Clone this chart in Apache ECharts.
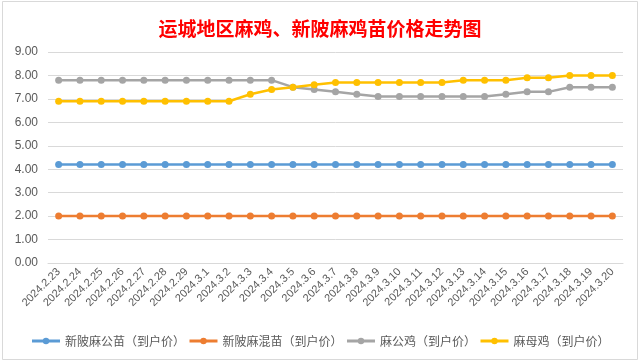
<!DOCTYPE html>
<html>
<head>
<meta charset="utf-8">
<script src="https://cdn.jsdelivr.net/npm/echarts@6/dist/echarts.min.js"></script>
<style>html,body{margin:0;padding:0;background:#fff;}#c{width:640px;height:363px;}</style>
</head>
<body>
<div id="c"></div>
<script>
var categories = ['2024.2.23','2024.2.24','2024.2.25','2024.2.26','2024.2.27','2024.2.28','2024.2.29','2024.3.1','2024.3.2','2024.3.3','2024.3.4','2024.3.5','2024.3.6','2024.3.7','2024.3.8','2024.3.9','2024.3.10','2024.3.11','2024.3.12','2024.3.13','2024.3.14','2024.3.15','2024.3.16','2024.3.17','2024.3.18','2024.3.19','2024.3.20'];
var seriesNames = ['新陂麻公苗（到户价）','新陂麻混苗（到户价）','麻公鸡（到户价）','麻母鸡（到户价）'];
var maleChick = [4.2,4.2,4.2,4.2,4.2,4.2,4.2,4.2,4.2,4.2,4.2,4.2,4.2,4.2,4.2,4.2,4.2,4.2,4.2,4.2,4.2,4.2,4.2,4.2,4.2,4.2,4.2];
var mixedChick = [2.0,2.0,2.0,2.0,2.0,2.0,2.0,2.0,2.0,2.0,2.0,2.0,2.0,2.0,2.0,2.0,2.0,2.0,2.0,2.0,2.0,2.0,2.0,2.0,2.0,2.0,2.0];
var rooster = [7.8,7.8,7.8,7.8,7.8,7.8,7.8,7.8,7.8,7.8,7.8,7.5,7.4,7.3,7.2,7.1,7.1,7.1,7.1,7.1,7.1,7.2,7.3,7.3,7.5,7.5,7.5];
var hen = [6.9,6.9,6.9,6.9,6.9,6.9,6.9,6.9,6.9,7.2,7.4,7.5,7.6,7.7,7.7,7.7,7.7,7.7,7.7,7.8,7.8,7.8,7.9,7.9,8.0,8.0,8.0];
var colors = ['#5B9BD5','#ED7D31','#A5A5A5','#FFC000'];

var chart = echarts.init(document.getElementById('c'), null, {renderer:'canvas'});
function mk(name, data, color){
  return {
    name: name, type: 'line', data: data,
    symbol: 'circle', symbolSize: 7,
    lineStyle: {width: 2.5, color: color},
    itemStyle: {color: color},
    animation: false
  };
}
chart.setOption({
  backgroundColor: '#fff',
  animation: false,
  title: {
    text: '运城地区麻鸡、新陂麻鸡苗价格走势图',
    left: 'center', top: 14,
    textStyle: {color: '#FF0000', fontSize: 19, fontWeight: 'bold', fontFamily: 'Noto Sans CJK SC'}
  },
  legend: {
    bottom: 11, left: 'center',
    itemWidth: 28, itemHeight: 8, itemGap: 3,
    lineStyle: {width: 3},
    textStyle: {color: '#595959', fontSize: 12, fontFamily: 'Noto Sans CJK SC'},
    data: seriesNames
  },
  grid: {left: 48, right: 17, top: 52, bottom: 100, containLabel: false},
  xAxis: {
    type: 'category', data: categories, boundaryGap: true,
    axisLine: {show: true, lineStyle: {color: '#D9D9D9'}},
    axisTick: {show: false},
    axisLabel: {rotate: 45, interval: 0, color: '#595959', fontSize: 11, margin: 7, fontFamily: 'Liberation Sans'}
  },
  yAxis: {
    type: 'value', min: 0, max: 9, interval: 1,
    axisLine: {show: false}, axisTick: {show: false},
    axisLabel: {color: '#595959', fontSize: 12, margin: 10, fontFamily: 'Liberation Sans', formatter: function(v){return v.toFixed(2);}},
    splitLine: {lineStyle: {color: '#D9D9D9'}}
  },
  graphic: [{
    type: 'rect', shape: {x: 2.5, y: 1.5, width: 635, height: 358},
    style: {fill: 'none', stroke: '#D9D9D9', lineWidth: 1}, z: -1
  }],
  series: [
    mk(seriesNames[0], maleChick, colors[0]),
    mk(seriesNames[1], mixedChick, colors[1]),
    mk(seriesNames[2], rooster, colors[2]),
    mk(seriesNames[3], hen, colors[3])
  ]
});
</script>
</body>
</html>
